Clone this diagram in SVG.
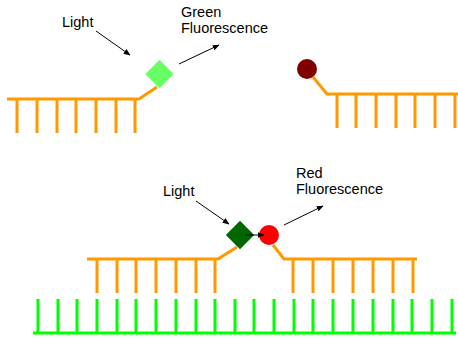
<svg xmlns="http://www.w3.org/2000/svg" width="458" height="338" viewBox="0 0 458 338">
  <defs>
    <style>
      .strand { fill: none; stroke: #FF9900; stroke-width: 3; }
      .target { fill: none; stroke: #00FF00; stroke-width: 3; }
      .ray { fill: none; stroke: #000; stroke-width: 1; marker-end: url(#head); }
      .label { font-family: "Liberation Sans", Arial, sans-serif; font-size: 14.5px; fill: #000; }
    </style>
    <marker id="head" viewBox="0 0 10 10" refX="9" refY="5" markerWidth="7" markerHeight="7" markerUnits="userSpaceOnUse" orient="auto">
      <path d="M0,1 L10,5 L0,9 z" fill="#000"/>
    </marker>
  </defs>

  <!-- donor probe, unbound -->
  <g id="donor-probe">
    <path class="strand" d="M7,99 H139 L157,87 M17,99 V133 M37,99 V133 M57,99 V133 M76,99 V133 M96,99 V133 M116,99 V133 M135,99 V133"/>
    <rect x="149.5" y="64" width="20" height="20" fill="#66FF66" transform="rotate(45 159.5 74)"/>
  </g>

  <!-- acceptor probe, unbound -->
  <g id="acceptor-probe">
    <path class="strand" d="M313,77 L327,94 H458 M337,94 V128 M356,94 V128 M376,94 V128 M396,94 V128 M415,94 V128 M435,94 V128 M455,94 V128"/>
    <circle cx="307" cy="69" r="10" fill="#800000"/>
  </g>

  <!-- target strand -->
  <g id="target">
    <path class="target" d="M33,333 H456 M38,299 V333 M58,299 V333 M77,299 V333 M97,299 V333 M117,299 V333 M136,299 V333 M156,299 V333 M176,299 V333 M196,299 V333 M215,299 V333 M235,299 V333 M254,299 V333 M274,299 V333 M294,299 V333 M313,299 V333 M333,299 V333 M353,299 V333 M373,299 V333 M393,299 V333 M412,299 V333 M432,299 V333 M452,299 V333"/>
  </g>

  <!-- donor probe, hybridised -->
  <g id="donor-bound">
    <path class="strand" d="M87,259 H218 L237,247 M97,259 V293 M117,259 V293 M136,259 V293 M156,259 V293 M176,259 V293 M196,259 V293 M215,259 V293"/>
    <rect x="230" y="225" width="20" height="20" fill="#006600" transform="rotate(45 240 235)"/>
  </g>

  <!-- acceptor probe, hybridised -->
  <g id="acceptor-bound">
    <path class="strand" d="M273,245 L284,259 H417 M293,259 V293 M313,259 V293 M333,259 V293 M353,259 V293 M373,259 V293 M393,259 V293 M413,259 V293"/>
    <circle cx="269" cy="235" r="10" fill="#FF0000"/>
  </g>

  <!-- labels -->
  <g id="labels">
    <text class="label" x="62" y="27">Light</text>
    <text class="label" x="181" y="17">Green</text>
    <text class="label" x="181" y="33">Fluorescence</text>
    <text class="label" x="163" y="196">Light</text>
    <text class="label" x="296" y="178">Red</text>
    <text class="label" x="296" y="194">Fluorescence</text>
  </g>

  <!-- excitation, emission and transfer arrows -->
  <g id="connectors">
    <line class="ray" x1="96" y1="31" x2="130" y2="55"/>
    <line class="ray" x1="179" y1="64" x2="219" y2="45"/>
    <line class="ray" x1="196" y1="201" x2="229" y2="224"/>
    <line class="ray" x1="284" y1="225" x2="323" y2="206"/>
    <line class="ray" x1="245" y1="235" x2="264" y2="235"/>
  </g>
</svg>
